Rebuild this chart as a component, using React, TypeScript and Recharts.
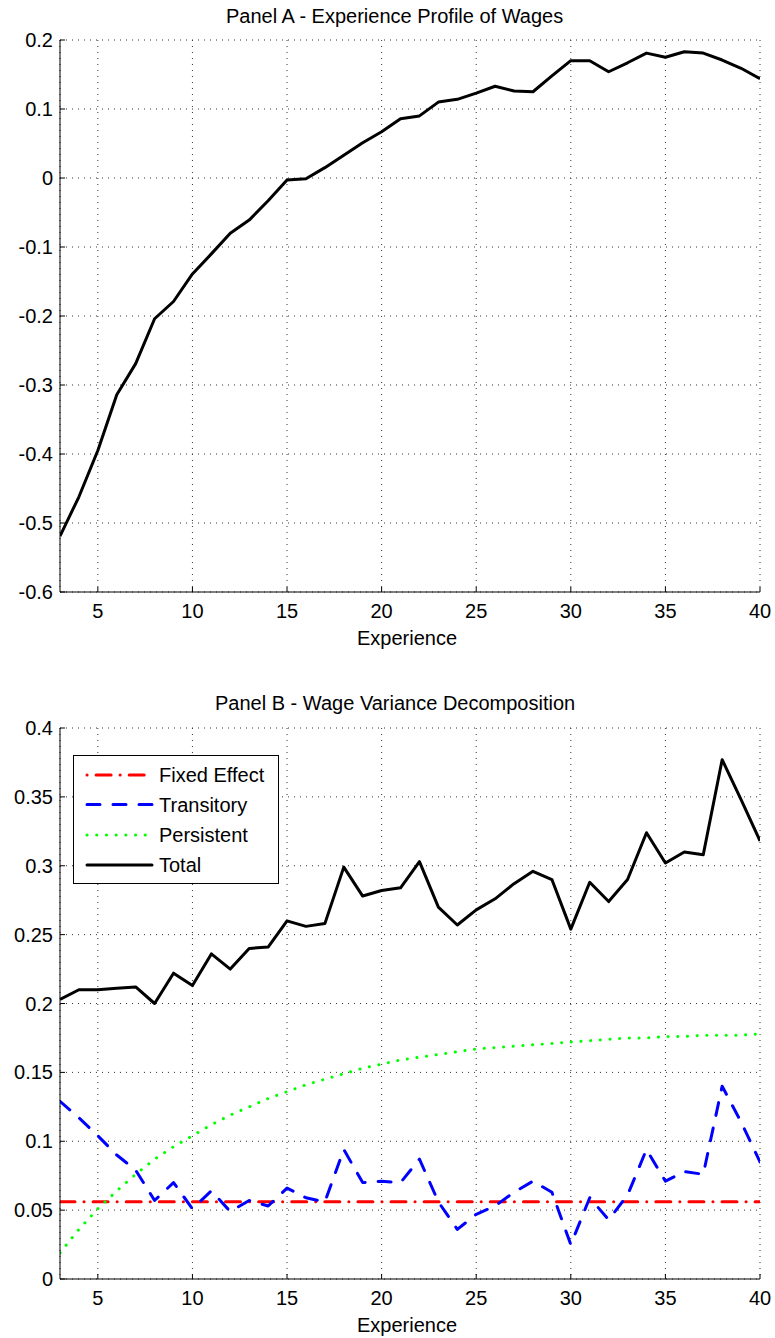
import { LineChart, Line, XAxis, YAxis, CartesianGrid } from "recharts";

const experience = [
  3, 4, 5, 6, 7, 8, 9, 10, 11, 12, 13, 14, 15, 16, 17, 18, 19, 20, 21, 22,
  23, 24, 25, 26, 27, 28, 29, 30, 31, 32, 33, 34, 35, 36, 37, 38, 39, 40,
];

// Panel A: log wage profile by years of experience
const wageProfile = [
  -0.519, -0.462, -0.395, -0.314, -0.269, -0.204, -0.179, -0.139, -0.11, -0.08,
  -0.061, -0.033, -0.003, -0.001, 0.015, 0.033, 0.051, 0.067, 0.086, 0.09,
  0.11, 0.114, 0.123, 0.133, 0.126, 0.125, 0.148, 0.17, 0.17, 0.154, 0.167,
  0.181, 0.175, 0.183, 0.181, 0.171, 0.159, 0.144,
];

// Panel B: variance components
const fixedEffect = [
  0.056, 0.056, 0.056, 0.056, 0.056, 0.056, 0.056, 0.056, 0.056, 0.056,
  0.056, 0.056, 0.056, 0.056, 0.056, 0.056, 0.056, 0.056, 0.056, 0.056,
  0.056, 0.056, 0.056, 0.056, 0.056, 0.056, 0.056, 0.056, 0.056, 0.056,
  0.056, 0.056, 0.056, 0.056, 0.056, 0.056, 0.056, 0.056,
];
const transitory = [
  0.129, 0.117, 0.104, 0.09, 0.079, 0.057, 0.07, 0.051, 0.064, 0.049, 0.057,
  0.053, 0.066, 0.059, 0.056, 0.094, 0.07, 0.071, 0.07, 0.087, 0.056, 0.036,
  0.047, 0.053, 0.063, 0.071, 0.063, 0.025, 0.059, 0.043, 0.061, 0.094, 0.071,
  0.078, 0.076, 0.14, 0.114, 0.085,
];
const persistent = [
  0.019, 0.036, 0.051, 0.064, 0.076, 0.087, 0.096, 0.104, 0.112, 0.119, 0.125,
  0.131, 0.136, 0.141, 0.145, 0.149, 0.153, 0.156, 0.159, 0.161, 0.163, 0.165,
  0.167, 0.168, 0.169, 0.17, 0.171, 0.172, 0.173, 0.174, 0.175, 0.175, 0.176,
  0.176, 0.177, 0.177, 0.177, 0.178,
];
const total = [
  0.203, 0.21, 0.21, 0.211, 0.212, 0.2, 0.222, 0.213, 0.236, 0.225, 0.24,
  0.241, 0.26, 0.256, 0.258, 0.299, 0.278, 0.282, 0.284, 0.303, 0.27, 0.257,
  0.268, 0.276, 0.287, 0.296, 0.29, 0.254, 0.288, 0.274, 0.29, 0.324, 0.302,
  0.31, 0.308, 0.377, 0.348, 0.318,
];

const xTicks = [5, 10, 15, 20, 25, 30, 35, 40];
const yTicksA = [-0.6, -0.5, -0.4, -0.3, -0.2, -0.1, 0, 0.1, 0.2];
const yTicksB = [0, 0.05, 0.1, 0.15, 0.2, 0.25, 0.3, 0.35, 0.4];

const seriesB = [
  { key: "fixed", name: "Fixed Effect", color: "#ff0000", dash: "15 9 0.1 9", legendDash: "0.1 9 15 9" },
  { key: "transitory", name: "Transitory", color: "#0000ff", dash: "13 13", legendDash: "13 13" },
  { key: "persistent", name: "Persistent", color: "#00ff00", dash: "0.1 9.6", legendDash: "0.1 9.6" },
  { key: "total", name: "Total", color: "#000000", dash: undefined, legendDash: undefined },
];

const dataA = experience.map((x, i) => ({ x, wage: wageProfile[i] }));
const dataB = experience.map((x, i) => ({
  x,
  fixed: fixedEffect[i],
  transitory: transitory[i],
  persistent: persistent[i],
  total: total[i],
}));

const FONT = '"Liberation Sans", Arial, sans-serif';
const tickStyle = { fontSize: 20, fill: "#000", fontFamily: FONT };
const fmt = (v: number) => String(v);

// MATLAB-style box: inward ticks on all four sides, dotted grid
function boxAxes(domain: [number, number], ticks: number[], xHeight: number) {
  return [
    <XAxis
      key="xb"
      xAxisId="b"
      dataKey="x"
      type="number"
      domain={[3, 40]}
      ticks={xTicks}
      height={xHeight}
      tickSize={-5}
      tickMargin={17}
      tick={tickStyle}
      axisLine={{ stroke: "#000" }}
      tickLine={{ stroke: "#000" }}
      allowDataOverflow
    />,
    <XAxis
      key="xt"
      xAxisId="t"
      orientation="top"
      dataKey="x"
      type="number"
      domain={[3, 40]}
      ticks={xTicks}
      height={0}
      tickSize={-5}
      tick={false}
      axisLine={{ stroke: "#000" }}
      tickLine={{ stroke: "#000" }}
      allowDataOverflow
    />,
    <YAxis
      key="yl"
      yAxisId="l"
      type="number"
      domain={domain}
      ticks={ticks}
      width={60}
      tickSize={-5}
      tickMargin={12}
      tick={tickStyle}
      tickFormatter={fmt}
      axisLine={{ stroke: "#000" }}
      tickLine={{ stroke: "#000" }}
      allowDataOverflow
    />,
    <YAxis
      key="yr"
      yAxisId="r"
      orientation="right"
      type="number"
      domain={domain}
      ticks={ticks}
      width={0}
      tickSize={-5}
      tick={false}
      axisLine={{ stroke: "#000" }}
      tickLine={{ stroke: "#000" }}
      allowDataOverflow
    />,
  ];
}

function LegendBox() {
  return (
    <div
      style={{
        position: "absolute",
        left: 73,
        top: 755,
        width: 204,
        height: 127,
        border: "1px solid #000",
        background: "#fff",
      }}
    >
      <svg width={204} height={127}>
        {seriesB.map((s, i) => {
          const y = [19, 48.5, 79, 109][i];
          return (
            <g key={s.key}>
              <line
                x1={13}
                x2={78}
                y1={y}
                y2={y}
                stroke={s.color}
                strokeWidth={3}
                strokeLinecap="round"
                strokeDasharray={s.legendDash}
              />
              <text x={85} y={y + 7} fontSize={20} fontFamily={FONT} fill="#000">
                {s.name}
              </text>
            </g>
          );
        })}
      </svg>
    </div>
  );
}

export default function App() {
  return (
    <div style={{ position: "absolute", left: 0, top: 0, width: 775, height: 1338, background: "#fff" }}>
      <div style={{ position: "absolute", left: 0, top: 0 }}>
        <LineChart width={775} height={660} data={dataA} margin={{ top: 40, right: 15, left: 0, bottom: 0 }}>
          <CartesianGrid xAxisId="b" yAxisId="l" stroke="#333" strokeDasharray="1 5" />
          {boxAxes([-0.6, 0.2], yTicksA, 68)}
          <Line
            xAxisId="b"
            yAxisId="l"
            dataKey="wage"
            stroke="#000"
            strokeWidth={3}
            strokeLinejoin="round"
            dot={false}
            isAnimationActive={false}
          />
        </LineChart>
      </div>

      <div style={{ position: "absolute", left: 0, top: 660 }}>
        <LineChart width={775} height={678} data={dataB} margin={{ top: 68, right: 15, left: 0, bottom: 0 }}>
          <CartesianGrid xAxisId="b" yAxisId="l" stroke="#333" strokeDasharray="1 5" />
          {boxAxes([0, 0.4], yTicksB, 59)}
          {seriesB.map((s) => (
            <Line
              key={s.key}
              xAxisId="b"
              yAxisId="l"
              dataKey={s.key}
              name={s.name}
              stroke={s.color}
              strokeWidth={3}
              strokeDasharray={s.dash}
              strokeLinecap={s.dash ? "round" : "butt"}
              strokeLinejoin="round"
              dot={false}
              isAnimationActive={false}
            />
          ))}
        </LineChart>
      </div>

      <LegendBox />

      <svg
        width={775}
        height={1338}
        style={{ position: "absolute", left: 0, top: 0, pointerEvents: "none" }}
      >
        <g fontFamily={FONT} fontSize={20} fill="#000">
          <text x={226} y={23}>Panel A - Experience Profile of Wages</text>
          <text x={357} y={645}>Experience</text>
          <text x={215} y={710}>Panel B - Wage Variance Decomposition</text>
          <text x={357} y={1332}>Experience</text>
        </g>
      </svg>
    </div>
  );
}
